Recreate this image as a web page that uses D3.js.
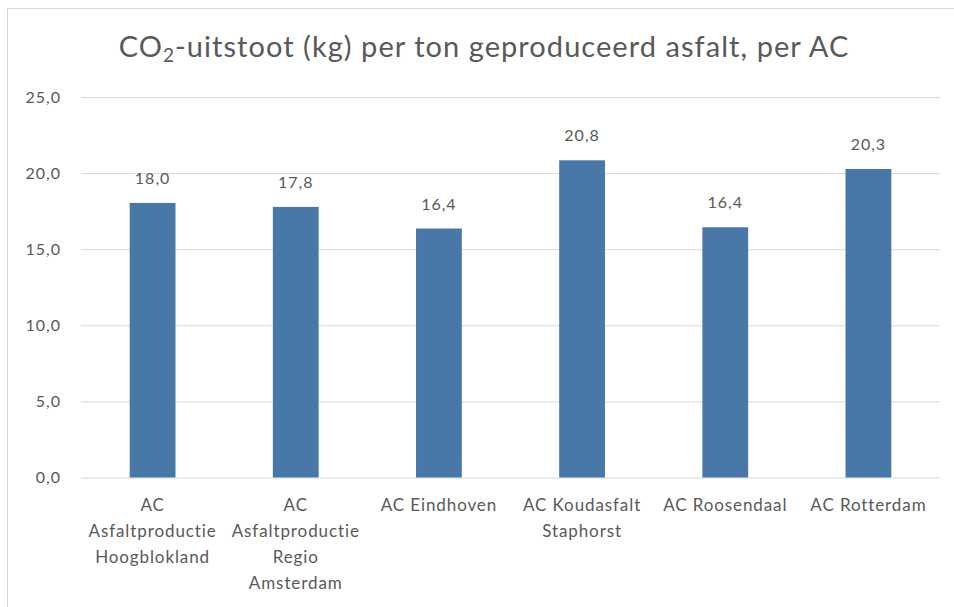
<!DOCTYPE html>
<html>
<head>
<meta charset="utf-8">
<script src="https://cdn.jsdelivr.net/npm/d3@7"></script>
<style>
  body { margin: 0; background: #fff; }
  text { font-family: Lato, "Open Sans", sans-serif; fill: #595959; }
</style>
</head>
<body>
<script>
// data
var categories = [
    "AC\nAsfaltproductie\nHoogblokland",
    "AC\nAsfaltproductie\nRegio\nAmsterdam",
    "AC Eindhoven",
    "AC Koudasfalt\nStaphorst",
    "AC Roosendaal",
    "AC Rotterdam"
];
var values = [18.04, 17.78, 16.36, 20.84, 16.44, 20.27];
var yTicks = [0, 5, 10, 15, 20, 25];

var W = 954, H = 607;
var margin = { top: 97, right: 14, bottom: 129.5, left: 81 };
var w = W - margin.left - margin.right;
var h = H - margin.top - margin.bottom;

var svg = d3.select("body")
    .append("svg")
    .attr("width", W)
    .attr("height", H);

// chart border (only top and left visible in the picture)
svg.append("path")
    .attr("d", "M7.5," + H + "V8.5H" + W)
    .attr("fill", "none")
    .attr("stroke", "#d9d9d9")
    .attr("stroke-width", 1);

svg.append("text")
    .attr("x", 484)
    .attr("y", 57)
    .attr("text-anchor", "middle")
    .style("font-size", "29px")
    .style("letter-spacing", "1.05px")
    .html('CO<tspan baseline-shift="-25%" font-size="19px">2</tspan>-uitstoot (kg) per ton geproduceerd asfalt, per AC');

var g = svg.append("g")
    .attr("transform", "translate(" + margin.left + "," + margin.top + ")");

var x = d3.scaleBand()
    .domain(categories)
    .range([0, w])
    .paddingInner(0.68)
    .paddingOuter(0.34);

var y = d3.scaleLinear()
    .domain([0, 25])
    .range([h, 0]);

var fmt = function (v) { return d3.format(".1f")(v).replace(".", ","); };

// gridlines + y labels
var yAxis = d3.axisLeft(y)
    .tickValues(yTicks)
    .tickSize(-w)
    .tickPadding(20)
    .tickFormat(fmt);

g.append("g")
    .call(yAxis)
    .call(function (s) {
        s.select(".domain").remove();
        s.selectAll(".tick line").attr("stroke", "#d9d9d9");
        s.selectAll(".tick text")
            .style("font-size", "16px")
            .style("letter-spacing", "1px")
            .attr("fill", "#595959");
    });

// bars
g.selectAll("rect.bar")
    .data(values)
    .enter()
    .append("rect")
    .attr("class", "bar")
    .attr("x", function (d, i) { return x(categories[i]); })
    .attr("width", x.bandwidth())
    .attr("y", function (d) { return y(d); })
    .attr("height", function (d) { return h - y(d); })
    .attr("fill", "#4878a8");

// value labels
g.selectAll("text.val")
    .data(values)
    .enter()
    .append("text")
    .attr("class", "val")
    .attr("x", function (d, i) { return x(categories[i]) + x.bandwidth() / 2; })
    .attr("y", function (d) { return y(d) - 19; })
    .attr("text-anchor", "middle")
    .style("font-size", "16px")
    .style("letter-spacing", "1px")
    .text(fmt);

// category labels
var cat = g.selectAll("text.cat")
    .data(categories)
    .enter()
    .append("text")
    .attr("class", "cat")
    .attr("x", function (d) { return x(d) + x.bandwidth() / 2; })
    .attr("y", h + 33)
    .attr("text-anchor", "middle")
    .style("font-size", "17px")
    .style("letter-spacing", "0.9px");

cat.selectAll("tspan")
    .data(function (d) { return d.split("\n").map(function (t) { return { t: t, x: x(d) + x.bandwidth() / 2 }; }); })
    .enter()
    .append("tspan")
    .attr("x", function (d) { return d.x; })
    .attr("dy", function (d, i) { return i ? 26 : 0; })
    .text(function (d) { return d.t; });
</script>
</body>
</html>
